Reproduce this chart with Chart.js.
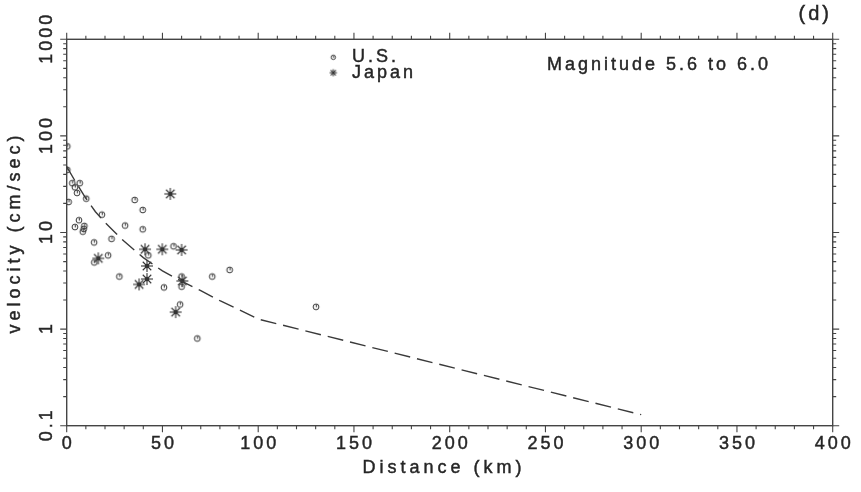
<!DOCTYPE html>
<html>
<head>
<meta charset="utf-8">
<script src="https://cdn.jsdelivr.net/npm/chart.js@4/dist/chart.umd.min.js"></script>
<style>
  html, body { margin: 0; padding: 0; background: #fff; }
  #wrap { width: 861px; height: 492px; }
</style>
</head>
<body>
<div id="wrap"><canvas id="c" width="861" height="492"></canvas></div>
<script>
// Peak ground velocity vs. distance, magnitude 5.6 - 6.0
const usDistance = [0.3, 0.3, 2.9, 6.8, 4.3, 5.4, 10.2, 1.0, 18.4, 35.5, 39.7, 6.4, 4.3, 9.2, 8.9, 8.4,
  30.5, 39.7, 23.4, 14.3, 21.6, 14.4, 42.6, 55.8, 27.5, 50.8, 60.0, 60.0, 59.2, 68.2, 76.0, 85.1, 130.2];
const usVelocity = [78, 44.5, 32.4, 32.4, 29.4, 25.7, 22.4, 20.7, 15.3, 21.7, 17.1, 13.4, 11.4, 11.7, 10.9, 10.2,
  11.8, 10.8, 8.6, 7.9, 5.8, 4.9, 5.8, 7.2, 3.5, 2.7, 3.5, 2.75, 1.8, 0.80, 3.5, 4.1, 1.7];

const japanDistance = [54.1, 16.5, 40.9, 49.9, 60.0, 41.9, 41.9, 37.8, 60.4, 56.9];
const japanVelocity = [25.1, 5.4, 6.7, 6.7, 6.6, 4.5, 3.3, 2.9, 3.15, 1.5];

// Attenuation curve
const curveDistance = [0, 5, 10, 15, 20, 25, 30, 40, 50, 60, 70, 80, 90, 100, 300];
const curveVelocity = [48, 32.5, 22.6, 16.4, 12.7, 10.1, 8.1, 5.5, 4.0, 3.13, 2.5, 1.97, 1.59, 1.27, 0.13];

const xTicks = [0, 50, 100, 150, 200, 250, 300, 350, 400];
const yTicks = [0.1, 1, 10, 100, 1000];
const yTickLabels = ['0.1', '1', '10', '100', '1000'];

const INK = '#262626';
const FONT = '"Liberation Sans", Arial, Helvetica, sans-serif';

function circleMarker(r) {
  const s = Math.ceil(r * 2 + 4);
  const c = document.createElement('canvas');
  c.width = c.height = s;
  const g = c.getContext('2d');
  g.strokeStyle = '#333';
  g.lineWidth = 1;
  g.beginPath();
  g.arc(s / 2, s / 2, r, 0, Math.PI * 2);
  g.stroke();
  g.beginPath();
  g.moveTo(s / 2 + 0.3, s / 2 - r + 0.8);
  g.lineTo(s / 2 + 0.3, s / 2 + 0.4);
  g.stroke();
  return c;
}

function starMarker(r, core) {
  const s = Math.ceil(r * 2 + 4);
  const c = document.createElement('canvas');
  c.width = c.height = s;
  const g = c.getContext('2d');
  g.strokeStyle = '#333';
  g.lineWidth = 1.1;
  const m = s / 2;
  for (let i = 0; i < 4; i++) {
    const a = i * Math.PI / 4;
    g.beginPath();
    g.moveTo(m - r * Math.cos(a), m - r * Math.sin(a));
    g.lineTo(m + r * Math.cos(a), m + r * Math.sin(a));
    g.stroke();
  }
  if (core > 0) {
    g.fillStyle = '#333';
    g.beginPath();
    g.arc(m, m, core, 0, Math.PI * 2);
    g.fill();
  }
  return c;
}

const usPoint = circleMarker(2.9);
const jpPoint = starMarker(6, 2.3);
const usLegend = circleMarker(2.2);
const jpLegend = starMarker(3.6, 0.9);

const toPoints = (xs, ys) => xs.map((x, i) => ({ x: x, y: ys[i] }));

// text with a hairline outline so it reads with some weight
function inkText(ctx, txt, x, y) {
  ctx.fillText(txt, x, y);
  ctx.strokeText(txt, x, y);
}

const framePlugin = {
  id: 'frame',
  beforeDatasetsDraw(chart) {
    const { ctx, chartArea: a, scales } = chart;
    const x = scales.x, y = scales.y;
    ctx.save();
    ctx.strokeStyle = '#444';
    ctx.lineWidth = 1.4;
    ctx.strokeRect(a.left, a.top, a.right - a.left, a.bottom - a.top);
    ctx.lineWidth = 1.1;
    ctx.beginPath();
    // distance ticks, bottom and top
    for (let v = 0; v <= 400; v += 10) {
      const px = x.getPixelForValue(v);
      const len = v % 50 === 0 ? 6.5 : 3.5;
      ctx.moveTo(px, a.bottom); ctx.lineTo(px, a.bottom + len);
      ctx.moveTo(px, a.top); ctx.lineTo(px, a.top - len);
    }
    // velocity ticks, left and right
    for (let d = 0.1; d < 1500; d *= 10) {
      for (let k = 1; k <= 9; k++) {
        const v = d * k;
        if (v > 1000.0001) break;
        const py = y.getPixelForValue(v);
        const len = k === 1 ? 6.5 : 3.5;
        ctx.moveTo(a.left, py); ctx.lineTo(a.left - len, py);
        ctx.moveTo(a.right, py); ctx.lineTo(a.right + len, py);
      }
    }
    ctx.stroke();
    ctx.restore();
  },
  afterDraw(chart) {
    const { ctx, chartArea: a, scales } = chart;
    const x = scales.x, y = scales.y;
    ctx.save();
    ctx.fillStyle = INK;
    ctx.strokeStyle = INK;
    ctx.lineWidth = 0.45;
    ctx.letterSpacing = '3px';
    ctx.font = '18px ' + FONT;
    ctx.textAlign = 'center';
    ctx.textBaseline = 'middle';
    xTicks.forEach(v => {
      inkText(ctx, String(v), x.getPixelForValue(v) + 1.5, 444.5);
    });
    yTickLabels.forEach((lab, i) => {
      ctx.save();
      ctx.translate(47, y.getPixelForValue(yTicks[i]) - 1.5);
      ctx.rotate(-Math.PI / 2);
      inkText(ctx, lab, 0, 0);
      ctx.restore();
    });

    // axis titles
    ctx.letterSpacing = '4px';
    inkText(ctx, 'Distance (km)', 444, 468);
    ctx.save();
    ctx.translate(15, (a.top + a.bottom) / 2);
    ctx.rotate(-Math.PI / 2);
    inkText(ctx, 'velocity (cm/sec)', 0, 0);
    ctx.restore();

    // annotations
    ctx.letterSpacing = '3px';
    ctx.textBaseline = 'alphabetic';
    ctx.textAlign = 'left';
    inkText(ctx, 'Magnitude 5.6 to 6.0', 547, 70);
    ctx.font = '20px ' + FONT;
    ctx.textAlign = 'right';
    inkText(ctx, '(d)', 832, 20);

    // legend
    ctx.font = '18px ' + FONT;
    ctx.textAlign = 'left';
    inkText(ctx, 'U.S.', 352, 62);
    inkText(ctx, 'Japan', 352, 77.5);
    ctx.drawImage(usLegend, 333.3 - usLegend.width / 2, 57.3 - usLegend.height / 2);
    ctx.drawImage(jpLegend, 333.3 - jpLegend.width / 2, 72.7 - jpLegend.height / 2);
    ctx.restore();
  }
};

const fixedSize = (w, h) => (scale) => {
  if (w !== null) scale.width = w;
  if (h !== null) scale.height = h;
};

new Chart(document.getElementById('c'), {
  type: 'scatter',
  data: {
    datasets: [
      {
        label: 'curve',
        type: 'line',
        data: toPoints(curveDistance, curveVelocity),
        borderColor: '#3a3a3a',
        borderWidth: 1.4,
        borderDash: [16, 7],
        pointRadius: 0,
        tension: 0,
        fill: false
      },
      {
        label: 'U.S.',
        data: toPoints(usDistance, usVelocity),
        pointStyle: usPoint,
        pointRadius: 3
      },
      {
        label: 'Japan',
        data: toPoints(japanDistance, japanVelocity),
        pointStyle: jpPoint,
        pointRadius: 6
      }
    ]
  },
  options: {
    responsive: false,
    animation: false,
    devicePixelRatio: 1,
    layout: { padding: 0 },
    plugins: { legend: { display: false }, tooltip: { enabled: false } },
    scales: {
      x: {
        type: 'linear', position: 'bottom', min: 0, max: 400,
        grid: { display: false, drawTicks: false }, border: { display: false },
        ticks: { display: false },
        afterFit: fixedSize(null, 66.3)
      },
      x2: {
        type: 'linear', position: 'top', axis: 'x', min: 0, max: 400,
        grid: { display: false, drawTicks: false }, border: { display: false },
        ticks: { display: false },
        afterFit: fixedSize(null, 39.3)
      },
      y: {
        type: 'logarithmic', position: 'left', min: 0.1, max: 1000,
        grid: { display: false, drawTicks: false }, border: { display: false },
        ticks: { display: false },
        afterFit: fixedSize(66.7, null)
      },
      y2: {
        type: 'logarithmic', position: 'right', axis: 'y', min: 0.1, max: 1000,
        grid: { display: false, drawTicks: false }, border: { display: false },
        ticks: { display: false },
        afterFit: fixedSize(28.3, null)
      }
    }
  },
  plugins: [framePlugin]
});
</script>
</body>
</html>
